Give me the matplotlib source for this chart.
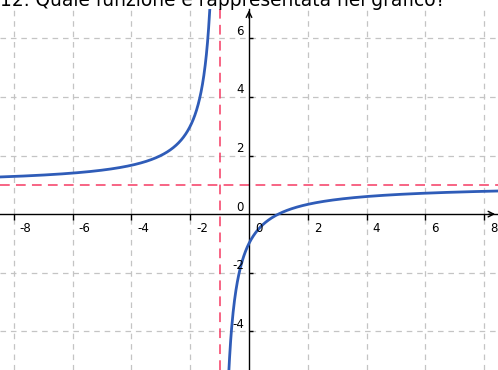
import numpy as np
import matplotlib.pyplot as plt
import matplotlib.transforms as mtransforms

plt.rcParams['lines.scale_dashes'] = False

title = "12. Quale funzione è rappresentata nel grafico?"

# funzione y = (x - 1) / (x + 1)
num_a, num_b = 1, -1
den_c, den_d = 1, 1
asym_x = -1
asym_y = 1

x_ticks = [-8, -6, -4, -2, 2, 4, 6, 8]
y_ticks = [-4, -2, 2, 4, 6]
x_lim = (-8.47, 8.47)
y_lim = (-5.32, 7.0)

fig = plt.figure(figsize=(4.98, 3.70), dpi=100)
ax = fig.add_axes([0, 0, 1, 361 / 370])
ax.set_xlim(*x_lim)
ax.set_ylim(*y_lim)

# griglia
for gx in x_ticks:
    ax.axvline(gx, color='#c4c4c4', lw=0.9, dashes=(4, 3.5), zorder=1)
for gy in y_ticks:
    ax.axhline(gy, color='#c4c4c4', lw=0.9, dashes=(4, 3.5), zorder=1)

# asintoti
ax.axvline(asym_x, color='#f53a63', lw=1.1, dashes=(7, 4.5), zorder=2)
ax.axhline(asym_y, color='#f53a63', lw=1.1, dashes=(7, 4.5), zorder=2)


def f(x):
    return (num_a * x + num_b) / (den_c * x + den_d)


xl = np.linspace(x_lim[0] - 0.2, asym_x - 0.05, 800)
xr = np.linspace(asym_x + 0.05, x_lim[1] + 0.2, 800)
ax.plot(xl, f(xl), color='#2f5cb8', lw=2.0, zorder=4, solid_capstyle='round')
ax.plot(xr, f(xr), color='#2f5cb8', lw=2.0, zorder=4, solid_capstyle='round')

# assi
for s in ['top', 'right']:
    ax.spines[s].set_visible(False)
ax.spines['left'].set_position(('data', 0))
ax.spines['bottom'].set_position(('data', 0))
ax.spines['left'].set_linewidth(1.0)
ax.spines['bottom'].set_linewidth(1.0)
ax.spines['left'].set_zorder(3)
ax.spines['bottom'].set_zorder(3)
ax.set_xticks(x_ticks)
ax.set_yticks(y_ticks)
ax.tick_params(axis='x', direction='out', length=4.5, width=1.0, labelbottom=False)
ax.tick_params(axis='y', direction='in', length=3, width=1.0, labelleft=False)

ax.annotate('', xy=(x_lim[1], 0), xytext=(x_lim[1] - 0.4, 0),
            arrowprops=dict(arrowstyle='->', color='black', lw=1.0), annotation_clip=False)
ax.annotate('', xy=(0, y_lim[1] + 0.05), xytext=(0, y_lim[1] - 0.4),
            arrowprops=dict(arrowstyle='->', color='black', lw=1.0), annotation_clip=False)

# etichette
tx = mtransforms.offset_copy(ax.transData, fig=fig, x=6, y=-14, units='dots')
for v in x_ticks + [0]:
    ax.text(v, 0, str(v) if v >= 0 else '-' + str(-v), transform=tx, ha='left', va='center',
            fontsize=8.5, color='black', zorder=5)
ty = mtransforms.offset_copy(ax.transData, fig=fig, x=-5, y=7, units='dots')
for v in y_ticks + [0]:
    ax.text(0, v, str(v) if v >= 0 else '-' + str(-v), transform=ty, ha='right', va='center',
            fontsize=8.5, color='black', zorder=5)

fig.text(0.0, 1 - 5.5 / 370, title, ha='left', va='baseline', fontsize=13.4, color='black')

fig.savefig('out.png', dpi=100)
